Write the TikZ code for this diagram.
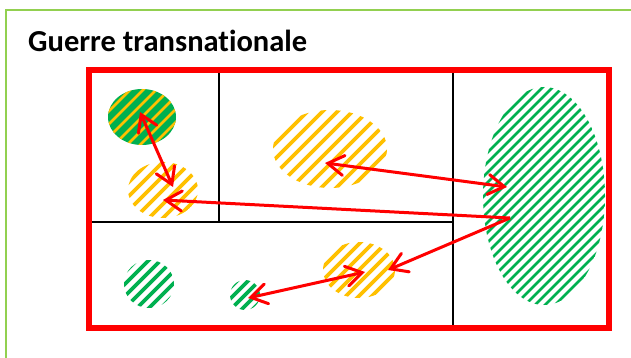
\documentclass[tikz,border=0pt]{standalone}
\usepackage{fontspec}
\setmainfont[Ligatures=NoCommon]{Carlito}
\usetikzlibrary{arrows.meta}
\definecolor{frgreen}{HTML}{92D050}
\definecolor{stgreen}{HTML}{00B050}
\definecolor{styellow}{HTML}{FFC000}
\definecolor{rred}{HTML}{FF0000}
\newcommand\stripedell[7]{%
 \begin{scope}
 \clip (#1,#2) ellipse [x radius=#3pt, y radius=#4pt];
 \foreach \k in {-20,...,20}{
  \draw[#5, line width=#6] ({#1+\k*#7-150},{#2+150}) -- ({#1+\k*#7+150},{#2-150});
 }
 \end{scope}}
\tikzset{
 redarrow/.style={draw=rred, line width=3pt},
 bar/.style={draw=black, line width=2pt},
 head/.tip={Straight Barb[length=16pt,width=20pt,line cap=round]}
}
\begin{document}
\begin{tikzpicture}[x=1pt,y=-1pt]
\useasboundingbox (0,0) rectangle (631,358);
% frame
\draw[frgreen, line width=2pt] (6,370) -- (6,10) -- (640,10);
\node[anchor=base west, inner sep=0pt, font=\bfseries\fontsize{30.5}{34}\selectfont] (title) at (28,52) {Guerre transnationale};
% stripes
\fill[stgreen] (142,117) ellipse [x radius=34pt, y radius=28pt];
\stripedell{142}{117}{34}{28}{styellow}{2.6pt}{13}
\stripedell{163}{190}{35}{28}{styellow}{3.6pt}{14}
\stripedell{330}{149}{57}{39}{styellow}{3.6pt}{15}
\stripedell{544}{196}{61}{109}{stgreen}{2.6pt}{10}
\stripedell{149}{284}{25}{24}{stgreen}{3.6pt}{12}
\stripedell{245}{295}{15}{15}{stgreen}{3.6pt}{11}
\stripedell{359}{270}{36}{28}{styellow}{3.6pt}{13}
% grid
\draw[bar] (219,70) -- (219,222);
\draw[bar] (90,222) -- (453,222);
\draw[bar] (453,70) -- (453,328);
\draw[rred, line width=6pt] (89,70) rectangle (609,328);
% coordinates
\coordinate (e1) at (140,112);
\coordinate (e2a) at (173,187);
\coordinate (e2b) at (163,200);
\coordinate (e3) at (325,163);
\coordinate (big1) at (507,187);
\coordinate (big2) at (510,218);
\coordinate (e7a) at (388,270);
\coordinate (e7b) at (365,272);
\coordinate (e6) at (248,298);
% arrows
\draw[redarrow, head-head] (e1) -- (e2a);
\draw[redarrow, -head] (big2) -- (e2b);
\draw[redarrow, head-head] (e3) -- (big1);
\draw[redarrow, -head] (big2) -- (e7a);
\draw[redarrow, head-head] (e6) -- (e7b);
\end{tikzpicture}
\end{document}
